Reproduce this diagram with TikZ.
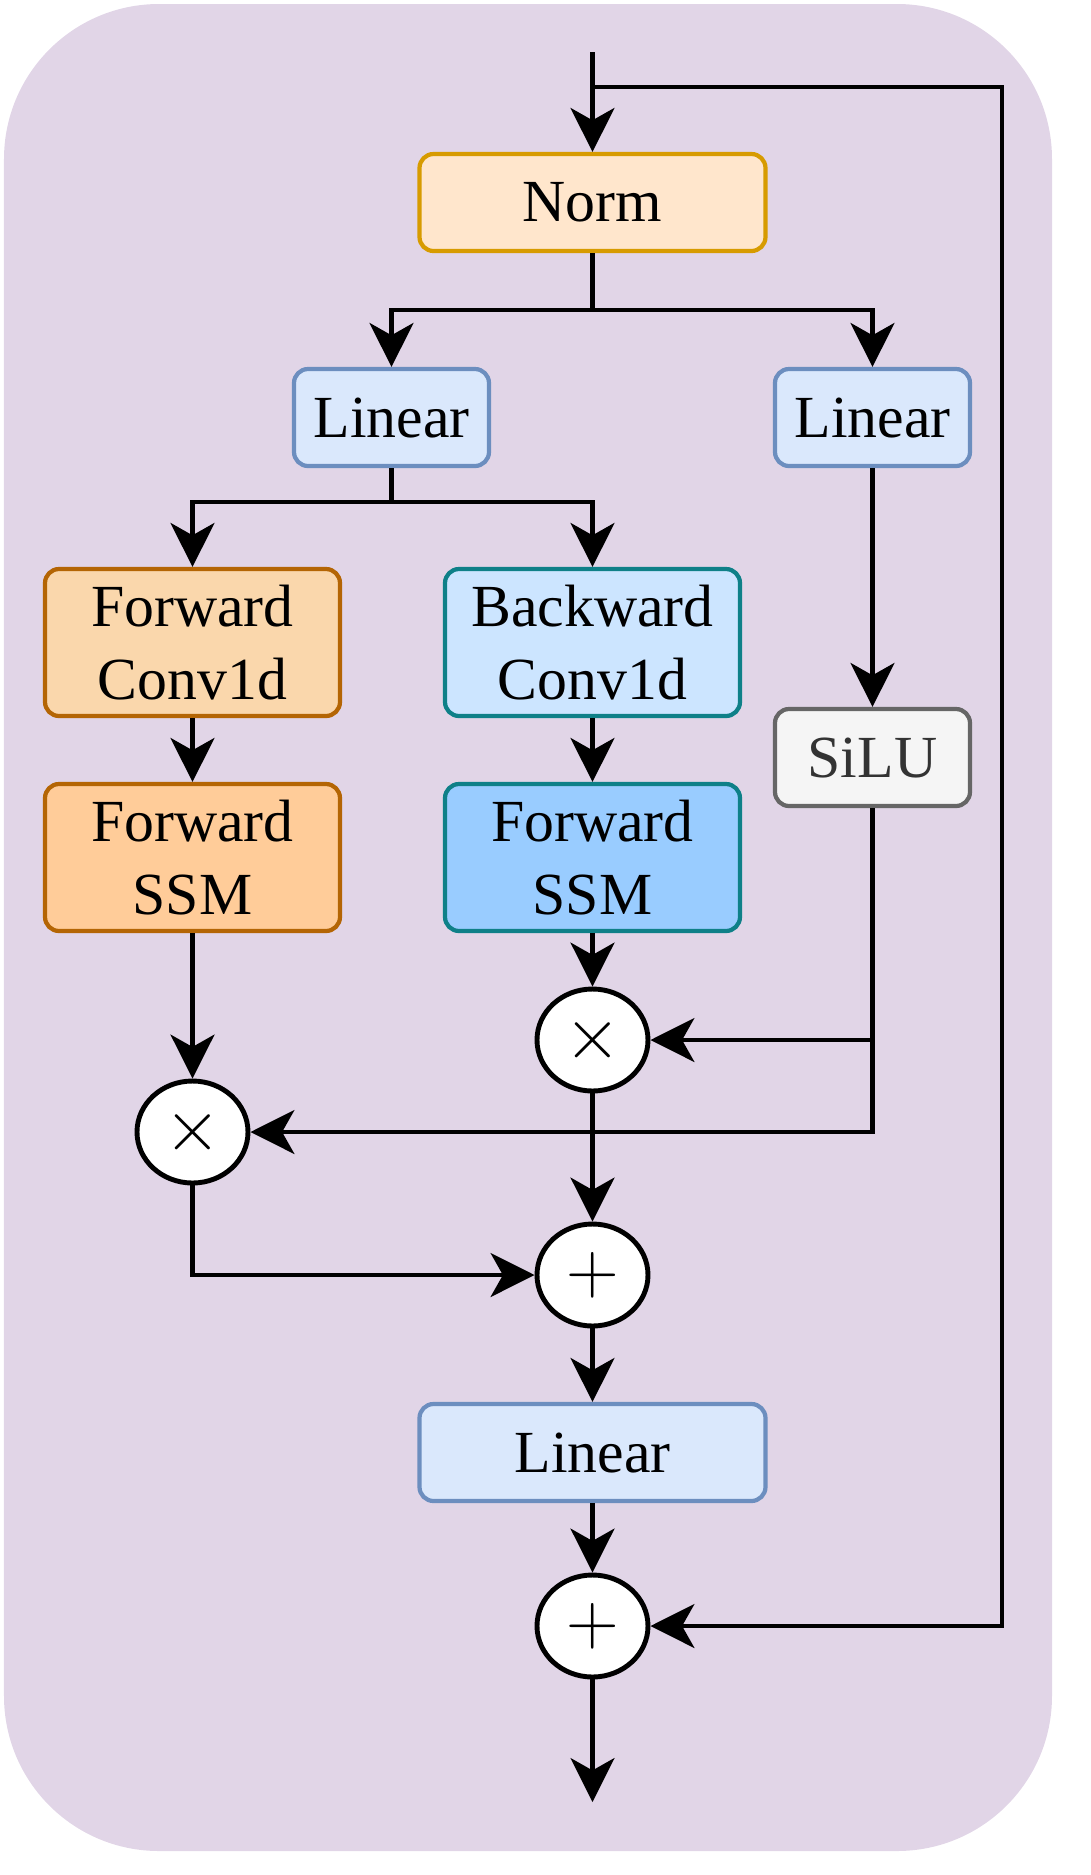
\documentclass[tikz,border=0pt]{standalone}
\usepackage{fontspec}
\setmainfont{Liberation Serif}
\usetikzlibrary{arrows.meta,positioning,shapes.geometric,calc}
\definecolor{bgpurple}{HTML}{E1D5E7}
\definecolor{normfill}{HTML}{FFE6CC}
\definecolor{normline}{HTML}{D79B00}
\definecolor{linfill}{HTML}{DAE8FC}
\definecolor{linline}{HTML}{6C8EBF}
\definecolor{fwdconv}{HTML}{FAD7AC}
\definecolor{fwdssm}{HTML}{FFCC99}
\definecolor{fwdline}{HTML}{B46504}
\definecolor{bwdconv}{HTML}{CCE5FF}
\definecolor{bwdssm}{HTML}{99CCFF}
\definecolor{bwdline}{HTML}{0E8088}
\definecolor{silufill}{HTML}{F5F5F5}
\definecolor{siluline}{HTML}{666666}
\definecolor{silutext}{HTML}{333333}

\begin{document}
\begin{tikzpicture}[
      blk/.style={rounded corners=4pt, line width=1.2pt, align=center,
                  font=\fontsize{17}{21}\selectfont, inner sep=2pt},
      op/.style={ellipse, draw, line width=1.4pt, fill=white, minimum width=1.11cm,
                 minimum height=1.02cm, inner sep=0pt, font=\fontsize{20}{22}\selectfont},
      arr/.style={-{Stealth[length=12.5pt, width=12.5pt, inset=3.5pt]}, line width=1.15pt, black}
    ]
      \useasboundingbox (0,0) rectangle (10.90,-18.75);
      \fill[bgpurple, rounded corners=1.55cm] (0.04,-0.04) rectangle (10.52,-18.51);

      \node[blk, fill=normfill, draw=normline, minimum width=3.46cm, minimum height=0.97cm] (norm) at (5.925,-2.025) {Norm};
      \node[blk, fill=linfill, draw=linline, minimum width=1.95cm, minimum height=0.97cm] (lin1) at (3.915,-4.175) {Linear};
      \node[blk, fill=linfill, draw=linline, minimum width=1.95cm, minimum height=0.97cm] (lin2) at (8.725,-4.175) {Linear};
      \node[blk, fill=fwdconv, draw=fwdline, minimum width=2.95cm, minimum height=1.47cm] (fconv) at (1.925,-6.425) {Forward\\Conv1d};
      \node[blk, fill=bwdconv, draw=bwdline, minimum width=2.95cm, minimum height=1.47cm] (bconv) at (5.925,-6.425) {Backward\\Conv1d};
      \node[blk, fill=fwdssm, draw=fwdline, minimum width=2.95cm, minimum height=1.47cm] (fssm) at (1.925,-8.575) {Forward\\SSM};
      \node[blk, fill=bwdssm, draw=bwdline, minimum width=2.95cm, minimum height=1.47cm] (bssm) at (5.925,-8.575) {Forward\\SSM};
      \node[blk, fill=silufill, draw=siluline, text=silutext, minimum width=1.95cm, minimum height=0.97cm] (silu) at (8.725,-7.575) {SiLU};
      \node[op] (mulr) at (5.925,-10.40) {$\times$};
      \node[op] (mull) at (1.925,-11.32) {$\times$};
      \node[op] (add1) at (5.925,-12.75) {$+$};
      \node[blk, fill=linfill, draw=linline, minimum width=3.46cm, minimum height=0.97cm] (lin3) at (5.925,-14.525) {Linear};
      \node[op] (add2) at (5.925,-16.26) {$+$};

      \coordinate (in) at (5.925,-0.52);
      \coordinate (out) at (5.925,-18.02);
      \coordinate (skip) at (5.925,-0.87);
      \coordinate (skipturn) at (10.02,-16.26);

      \draw[arr] (in) -- (norm);
      \draw[arr] (skip) -- (10.02,-0.87) -- (skipturn) -- (add2);
      \draw[arr] (norm) |- (3.915,-3.10) -- (lin1);
      \draw[arr] (norm) |- (8.725,-3.10) -- (lin2);
      \draw[arr] (lin1) |- (1.925,-5.02) -- (fconv);
      \draw[arr] (lin1) |- (5.925,-5.02) -- (bconv);
      \draw[arr] (lin2) -- (silu);
      \draw[arr] (fconv) -- (fssm);
      \draw[arr] (bconv) -- (bssm);
      \draw[arr] (fssm) -- (mull);
      \draw[arr] (bssm) -- (mulr);
      \draw[arr] (silu) |- (mulr);
      \draw[arr] (silu) |- (mull);
      \draw[arr] (mulr) -- (add1);
      \draw[arr] (mull) |- (add1);
      \draw[arr] (add1) -- (lin3);
      \draw[arr] (lin3) -- (add2);
      \draw[arr] (add2) -- (out);
    \end{tikzpicture}
\end{document}
